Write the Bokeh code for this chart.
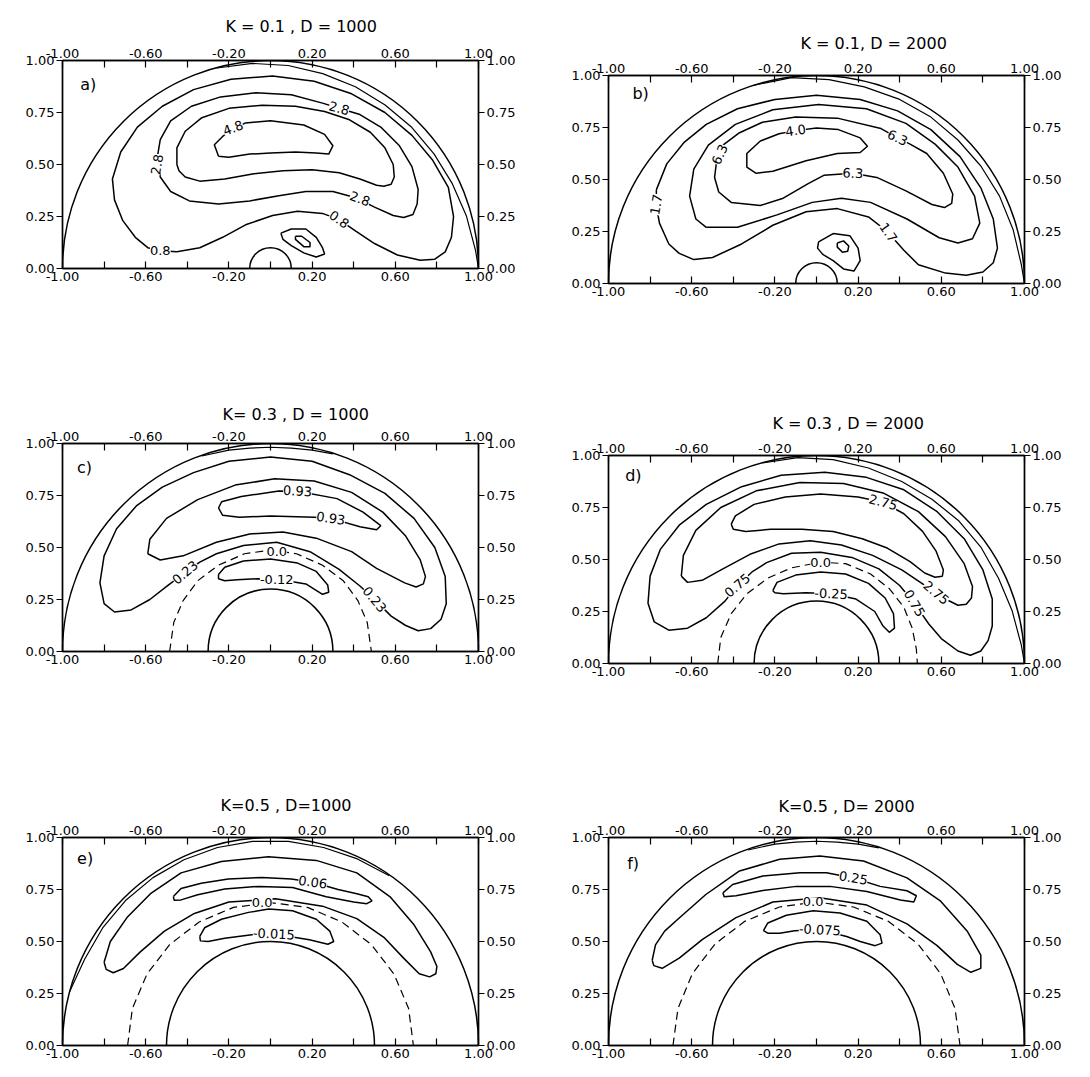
import math
from bokeh.plotting import figure
from bokeh.models import (ColumnDataSource, LabelSet, Label, FixedTicker, LinearAxis,
                          Range1d, PrintfTickFormatter)
from bokeh.layouts import column, row
from bokeh.embed import file_html
from bokeh.resources import INLINE
from bokeh.core.properties import value

FONT = "DejaVu Sans"

# ---------------- axes ----------------
X_MAJOR = [-1.0, -0.6, -0.2, 0.2, 0.6, 1.0]
X_MINOR = [-0.8, -0.4, 0.0, 0.4, 0.8]
Y_MAJOR = [0.0, 0.25, 0.5, 0.75, 1.0]

TITLES = ["K = 0.1  ,  D = 1000", "K = 0.1, D = 2000", "K= 0.3  ,  D = 1000",
          "K = 0.3 , D = 2000", "K=0.5  ,  D=1000", "K=0.5   ,   D= 2000"]
LETTERS = ["a)", "b)", "c)", "d)", "e)", "f)"]
K_VALUES = [0.1, 0.1, 0.3, 0.3, 0.5, 0.5]

# ---------------- panel a ----------------
A_EXTRA = [(-0.258, 0.964), (-0.086, 0.986), (0.085, 0.976), (0.251, 0.937), (0.408, 0.874),
           (0.551, 0.786), (0.679, 0.679), (0.786, 0.551), (0.874, 0.408), (0.942, 0.252),
           (0.986, 0.086), (1.0, 0.0)]
A_08 = [(-0.45, 0.08), (-0.34, 0.10), (-0.23, 0.15), (-0.12, 0.21), (0.01, 0.255), (0.13, 0.275),
        (0.25, 0.265), (0.33, 0.235), (0.41, 0.18), (0.50, 0.12), (0.61, 0.065), (0.72, 0.04),
        (0.79, 0.045), (0.84, 0.08), (0.87, 0.15), (0.88, 0.25), (0.855, 0.39), (0.78, 0.52),
        (0.68, 0.64), (0.55, 0.75), (0.39, 0.84), (0.21, 0.90), (0.01, 0.925), (-0.19, 0.91),
        (-0.37, 0.86), (-0.52, 0.78), (-0.64, 0.68), (-0.72, 0.56), (-0.76, 0.43), (-0.75, 0.33),
        (-0.71, 0.23), (-0.65, 0.15), (-0.59, 0.10), (-0.53, 0.085)]
A_28 = [(0.33, 0.77), (0.25, 0.795), (0.10, 0.835), (-0.07, 0.845), (-0.24, 0.825), (-0.38, 0.78),
        (-0.48, 0.71), (-0.53, 0.62), (-0.545, 0.53), (-0.53, 0.44), (-0.48, 0.37), (-0.39, 0.325),
        (-0.25, 0.31), (-0.10, 0.325), (0.04, 0.35), (0.17, 0.37), (0.30, 0.37), (0.41, 0.34),
        (0.50, 0.295), (0.59, 0.255), (0.64, 0.245), (0.685, 0.26), (0.705, 0.31), (0.71, 0.38),
        (0.68, 0.49), (0.62, 0.59), (0.53, 0.68), (0.43, 0.74)]
A_MID = [(-0.45, 0.50), (-0.45, 0.58), (-0.41, 0.66), (-0.33, 0.725), (-0.20, 0.77), (-0.04, 0.785),
         (0.12, 0.78), (0.26, 0.755), (0.38, 0.715), (0.48, 0.655), (0.55, 0.58), (0.59, 0.50),
         (0.595, 0.44), (0.58, 0.405), (0.545, 0.395), (0.51, 0.40), (0.43, 0.43), (0.33, 0.46),
         (0.20, 0.475), (0.06, 0.47), (-0.08, 0.455), (-0.22, 0.43), (-0.34, 0.42), (-0.41, 0.44),
         (-0.44, 0.47)]
A_48 = [(-0.25, 0.54), (-0.27, 0.595), (-0.23, 0.635), (-0.18, 0.67), (-0.12, 0.70), (0.0, 0.71),
        (0.16, 0.69), (0.26, 0.645), (0.30, 0.59), (0.28, 0.55), (0.22, 0.555), (0.12, 0.56),
        (0.0, 0.555), (-0.10, 0.55), (-0.20, 0.535)]
A_SMALL = [(0.05, 0.17), (0.10, 0.19), (0.17, 0.19), (0.22, 0.15), (0.25, 0.10), (0.26, 0.07),
           (0.22, 0.055), (0.16, 0.075), (0.10, 0.11), (0.06, 0.14)]
A_TINY = [(0.12, 0.155), (0.15, 0.155), (0.19, 0.125), (0.19, 0.105), (0.16, 0.105), (0.12, 0.14)]
A_LAB_X = [-0.53, 0.33, -0.545, 0.33, 0.43, -0.18]
A_LAB_Y = [0.085, 0.235, 0.50, 0.77, 0.335, 0.675]
A_LAB_T = ["0.8", "0.8", "2.8", "2.8", "2.8", "4.8"]
A_LAB_A = [0, -35, 80, -15, -20, 20]

# ---------------- panel b ----------------
B_EXTRA = [(-0.30, 0.953), (-0.12, 0.99), (0.06, 0.98), (0.23, 0.945), (0.40, 0.885), (0.55, 0.80),
           (0.68, 0.69), (0.79, 0.565), (0.88, 0.42), (0.945, 0.26), (0.985, 0.09), (1.0, 0.0)]
B_17 = [(-0.77, 0.45), (-0.72, 0.575), (-0.635, 0.68), (-0.53, 0.765), (-0.38, 0.84), (-0.20, 0.885),
        (0.0, 0.905), (0.21, 0.885), (0.39, 0.83), (0.55, 0.74), (0.69, 0.61), (0.79, 0.46),
        (0.85, 0.31), (0.87, 0.17), (0.85, 0.10), (0.80, 0.055), (0.72, 0.04), (0.62, 0.05),
        (0.49, 0.09), (0.42, 0.16), (0.34, 0.25), (0.25, 0.32), (0.10, 0.36), (-0.05, 0.345),
        (-0.21, 0.28), (-0.36, 0.19), (-0.50, 0.125), (-0.59, 0.115), (-0.66, 0.145), (-0.71, 0.19),
        (-0.755, 0.29), (-0.77, 0.375)]
B_MID = [(-0.53, 0.27), (-0.38, 0.27), (-0.19, 0.33), (-0.02, 0.39), (0.12, 0.41), (0.26, 0.39),
         (0.435, 0.31), (0.59, 0.22), (0.68, 0.195), (0.75, 0.215), (0.785, 0.29), (0.76, 0.42),
         (0.68, 0.56), (0.57, 0.67), (0.43, 0.77), (0.24, 0.84), (0.01, 0.86), (-0.21, 0.835),
         (-0.39, 0.765), (-0.52, 0.665), (-0.59, 0.55), (-0.61, 0.42), (-0.58, 0.31)]
B_63 = [(0.39, 0.70), (0.31, 0.745), (0.10, 0.795), (-0.10, 0.80), (-0.26, 0.775), (-0.37, 0.725),
        (-0.45, 0.665), (-0.48, 0.59), (-0.49, 0.51), (-0.47, 0.44), (-0.41, 0.39), (-0.27, 0.375),
        (-0.16, 0.41), (-0.04, 0.48), (0.035, 0.52), (0.175, 0.53), (0.29, 0.51), (0.43, 0.445),
        (0.555, 0.38), (0.615, 0.365), (0.65, 0.385), (0.655, 0.43), (0.61, 0.53), (0.53, 0.625),
        (0.45, 0.67)]
B_40 = [(-0.10, 0.735), (0.0, 0.748), (0.105, 0.74), (0.21, 0.70), (0.245, 0.66), (0.21, 0.63),
        (0.10, 0.625), (-0.05, 0.59), (-0.21, 0.54), (-0.29, 0.53), (-0.335, 0.56), (-0.335, 0.625),
        (-0.27, 0.685), (-0.18, 0.72)]
B_SMALL = [(0.01, 0.20), (0.08, 0.24), (0.16, 0.23), (0.20, 0.17), (0.21, 0.11), (0.18, 0.06),
           (0.13, 0.07), (0.08, 0.11), (0.03, 0.14), (0.005, 0.17)]
B_TINY = [(0.10, 0.195), (0.13, 0.205), (0.155, 0.18), (0.15, 0.155), (0.125, 0.15), (0.10, 0.175)]
B_LAB_X = [-0.10, 0.39, 0.175, -0.465, -0.77, 0.345]
B_LAB_Y = [0.735, 0.70, 0.53, 0.62, 0.38, 0.245]
B_LAB_T = ["4.0", "6.3", "6.3", "6.3", "1.7", "1.7"]
B_LAB_A = [8, -25, -3, 65, 80, -55]

# ---------------- panel c ----------------
C_EXTRA = [(-0.33, 0.94), (-0.2, 0.968), (-0.1, 0.978), (0.0, 0.982), (0.1, 0.978), (0.2, 0.968),
           (0.3, 0.95)]
C_023 = [(-0.41, 0.38), (-0.49, 0.32), (-0.58, 0.25), (-0.67, 0.20), (-0.75, 0.19), (-0.80, 0.23),
         (-0.82, 0.33), (-0.80, 0.46), (-0.74, 0.59), (-0.645, 0.70), (-0.52, 0.79), (-0.37, 0.86),
         (-0.20, 0.915), (0.0, 0.935), (0.20, 0.915), (0.38, 0.85), (0.55, 0.76), (0.69, 0.64),
         (0.79, 0.50), (0.84, 0.36), (0.845, 0.23), (0.82, 0.155), (0.77, 0.11), (0.71, 0.10),
         (0.65, 0.125), (0.58, 0.17), (0.50, 0.25), (0.43, 0.315), (0.33, 0.395), (0.19, 0.48),
         (0.03, 0.525), (-0.13, 0.51), (-0.26, 0.47), (-0.34, 0.43)]
C_MID = [(-0.59, 0.47), (-0.58, 0.54), (-0.50, 0.64), (-0.35, 0.73), (-0.17, 0.80), (0.02, 0.83),
         (0.21, 0.82), (0.39, 0.765), (0.54, 0.67), (0.65, 0.555), (0.72, 0.44), (0.745, 0.36),
         (0.735, 0.325), (0.70, 0.31), (0.645, 0.33), (0.51, 0.40), (0.39, 0.48), (0.22, 0.545),
         (0.06, 0.575), (-0.10, 0.565), (-0.26, 0.525), (-0.42, 0.46), (-0.53, 0.44)]
C_093 = [(-0.25, 0.69), (-0.23, 0.655), (-0.15, 0.645), (0.0, 0.652), (0.21, 0.645), (0.29, 0.64),
         (0.43, 0.60), (0.51, 0.585), (0.53, 0.605), (0.445, 0.67), (0.32, 0.735), (0.13, 0.77),
         (0.04, 0.772), (-0.14, 0.745), (-0.235, 0.72)]
C_DASH = [(-0.485, 0.0), (-0.465, 0.14), (-0.42, 0.245), (-0.35, 0.34), (-0.25, 0.415),
          (-0.125, 0.47), (0.0, 0.487), (0.125, 0.47), (0.25, 0.415), (0.35, 0.34), (0.42, 0.245),
          (0.465, 0.14), (0.485, 0.0)]
C_012 = [(-0.25, 0.37), (-0.22, 0.405), (-0.13, 0.435), (0.0, 0.445), (0.13, 0.425), (0.22, 0.385),
         (0.275, 0.32), (0.28, 0.285), (0.25, 0.275), (0.17, 0.325), (0.05, 0.345), (-0.06, 0.35),
         (-0.16, 0.345), (-0.22, 0.34), (-0.25, 0.35)]
C_LAB_X = [0.13, 0.29, 0.03, 0.03, -0.41, 0.50]
C_LAB_Y = [0.771, 0.64, 0.482, 0.347, 0.38, 0.25]
C_LAB_T = ["0.93", "0.93", "0.0", "-0.12", "0.23", "0.23"]
C_LAB_A = [-3, -8, 0, 0, 40, -50]

# ---------------- panel d ----------------
D_EXTRA = [(-0.26, 0.964), (-0.09, 0.99), (0.08, 0.98), (0.25, 0.94), (0.41, 0.875), (0.555, 0.79),
           (0.685, 0.685), (0.79, 0.56), (0.875, 0.41), (0.94, 0.255), (0.985, 0.087), (1.0, 0.0)]
D_075 = [(-0.38, 0.375), (-0.44, 0.30), (-0.53, 0.22), (-0.62, 0.17), (-0.71, 0.16), (-0.78, 0.20),
         (-0.81, 0.29), (-0.80, 0.42), (-0.75, 0.55), (-0.66, 0.665), (-0.53, 0.765), (-0.36, 0.85),
         (-0.17, 0.905), (0.04, 0.92), (0.24, 0.895), (0.42, 0.835), (0.58, 0.73), (0.71, 0.60),
         (0.80, 0.45), (0.845, 0.31), (0.845, 0.18), (0.825, 0.11), (0.79, 0.06), (0.74, 0.04),
         (0.68, 0.06), (0.60, 0.12), (0.54, 0.19), (0.47, 0.29), (0.40, 0.375), (0.30, 0.455),
         (0.17, 0.51), (0.02, 0.535), (-0.12, 0.53), (-0.24, 0.485), (-0.31, 0.44)]
D_MID = [(-0.65, 0.42), (-0.64, 0.52), (-0.58, 0.64), (-0.46, 0.75), (-0.29, 0.83), (-0.08, 0.87),
         (0.13, 0.865), (0.32, 0.82), (0.49, 0.73), (0.62, 0.61), (0.71, 0.48), (0.75, 0.37),
         (0.745, 0.315), (0.72, 0.285), (0.68, 0.28), (0.62, 0.31), (0.53, 0.37), (0.41, 0.45),
         (0.27, 0.52), (0.12, 0.57), (-0.03, 0.59), (-0.18, 0.575), (-0.32, 0.525), (-0.45, 0.455),
         (-0.55, 0.40), (-0.62, 0.39)]
D_275 = [(-0.41, 0.67), (-0.39, 0.71), (-0.30, 0.765), (-0.15, 0.80), (0.02, 0.815), (0.20, 0.80),
         (0.32, 0.775), (0.42, 0.72), (0.51, 0.635), (0.575, 0.54), (0.61, 0.45), (0.605, 0.42),
         (0.57, 0.415), (0.52, 0.435), (0.45, 0.49), (0.34, 0.555), (0.22, 0.60), (0.08, 0.635),
         (-0.07, 0.645), (-0.22, 0.645), (-0.34, 0.635), (-0.40, 0.645)]
D_DASH = [(-0.475, 0.0), (-0.46, 0.125), (-0.41, 0.24), (-0.335, 0.335), (-0.235, 0.41),
          (-0.12, 0.46), (0.02, 0.487), (0.14, 0.48), (0.26, 0.43), (0.35, 0.36), (0.42, 0.27),
          (0.46, 0.17), (0.48, 0.07), (0.485, 0.0)]
D_025 = [(-0.21, 0.35), (-0.19, 0.39), (-0.10, 0.425), (0.02, 0.44), (0.14, 0.43), (0.25, 0.385),
         (0.33, 0.315), (0.37, 0.24), (0.375, 0.17), (0.35, 0.15), (0.32, 0.18), (0.28, 0.25),
         (0.19, 0.31), (0.07, 0.335), (-0.05, 0.34), (-0.16, 0.335), (-0.20, 0.34)]
D_LAB_X = [0.32, 0.575, -0.38, 0.47, 0.02, 0.07]
D_LAB_Y = [0.775, 0.34, 0.375, 0.29, 0.487, 0.335]
D_LAB_T = ["2.75", "2.75", "0.75", "0.75", "0.0", "-0.25"]
D_LAB_A = [-15, -40, 40, -60, 0, -3]

# ---------------- panel e ----------------
E_EXTRA = [(-0.966, 0.259), (-0.893, 0.416), (-0.807, 0.565), (-0.697, 0.697), (-0.565, 0.807),
           (-0.416, 0.893), (-0.255, 0.952), (-0.086, 0.981), (0.086, 0.981), (0.255, 0.952),
           (0.418, 0.897), (0.571, 0.816)]
E_OUT = [(-0.80, 0.40), (-0.77, 0.50), (-0.69, 0.615), (-0.577, 0.73), (-0.43, 0.83), (-0.236, 0.885),
         (-0.01, 0.907), (0.22, 0.89), (0.415, 0.83), (0.577, 0.713), (0.69, 0.58), (0.77, 0.45),
         (0.80, 0.38), (0.795, 0.345), (0.765, 0.33), (0.715, 0.345), (0.64, 0.42), (0.545, 0.52),
         (0.415, 0.61), (0.25, 0.67), (0.024, 0.705), (-0.20, 0.69), (-0.366, 0.635), (-0.51, 0.55),
         (-0.626, 0.45), (-0.707, 0.37), (-0.756, 0.35), (-0.79, 0.366)]
E_006 = [(-0.467, 0.716), (-0.43, 0.755), (-0.333, 0.78), (-0.203, 0.80), (-0.04, 0.808), (0.10, 0.80),
         (0.203, 0.785), (0.325, 0.75), (0.415, 0.73), (0.47, 0.715), (0.488, 0.695), (0.463, 0.682),
         (0.40, 0.69), (0.268, 0.715), (0.106, 0.76), (-0.057, 0.765), (-0.22, 0.752), (-0.35, 0.725),
         (-0.43, 0.70), (-0.463, 0.698)]
E_DASH = [(-0.687, 0.0), (-0.664, 0.178), (-0.594, 0.343), (-0.485, 0.485), (-0.343, 0.594),
          (-0.178, 0.664), (0.0, 0.687), (0.178, 0.664), (0.343, 0.594), (0.485, 0.485),
          (0.594, 0.343), (0.664, 0.178), (0.687, 0.0)]
E_0015 = [(-0.34, 0.525), (-0.317, 0.566), (-0.236, 0.607), (-0.106, 0.64), (-0.008, 0.656),
          (0.106, 0.648), (0.22, 0.607), (0.285, 0.55), (0.304, 0.50), (0.276, 0.487), (0.187, 0.508),
          (0.016, 0.536), (-0.09, 0.533), (-0.22, 0.516), (-0.30, 0.50), (-0.337, 0.503)]
E_LAB_X = [0.203, -0.04, 0.016]
E_LAB_Y = [0.785, 0.687, 0.536]
E_LAB_T = ["0.06", "0.0", "-0.015"]
E_LAB_A = [-8, 0, -3]

# ---------------- panel f ----------------
F_EXTRA = [(-0.33, 0.94), (-0.2, 0.968), (-0.1, 0.978), (0.0, 0.982), (0.1, 0.978), (0.2, 0.968),
           (0.3, 0.95)]
F_OUT = [(-0.79, 0.41), (-0.774, 0.484), (-0.73, 0.55), (-0.66, 0.613), (-0.532, 0.726), (-0.37, 0.839),
         (-0.177, 0.895), (0.016, 0.911), (0.226, 0.887), (0.435, 0.806), (0.597, 0.694),
         (0.726, 0.548), (0.79, 0.435), (0.79, 0.371), (0.742, 0.352), (0.677, 0.39), (0.58, 0.48),
         (0.435, 0.585), (0.242, 0.675), (0.016, 0.71), (-0.21, 0.69), (-0.387, 0.615),
         (-0.548, 0.51), (-0.66, 0.42), (-0.742, 0.371), (-0.782, 0.384)]
F_025 = [(-0.45, 0.734), (-0.403, 0.774), (-0.258, 0.815), (-0.08, 0.83), (0.048, 0.83), (0.177, 0.805),
         (0.306, 0.765), (0.435, 0.744), (0.48, 0.72), (0.468, 0.69), (0.403, 0.70), (0.242, 0.74),
         (0.065, 0.765), (-0.097, 0.765), (-0.258, 0.745), (-0.387, 0.72), (-0.444, 0.715)]
F_DASH = [(-0.69, 0.0), (-0.666, 0.178), (-0.597, 0.345), (-0.488, 0.488), (-0.345, 0.597),
          (-0.178, 0.666), (0.0, 0.69), (0.178, 0.666), (0.345, 0.597), (0.488, 0.488),
          (0.597, 0.345), (0.666, 0.178), (0.69, 0.0)]
F_0075 = [(-0.255, 0.552), (-0.234, 0.589), (-0.145, 0.626), (-0.016, 0.648), (0.113, 0.637),
          (0.242, 0.597), (0.306, 0.532), (0.315, 0.492), (0.282, 0.48), (0.21, 0.50), (0.145, 0.524),
          (0.016, 0.556), (-0.105, 0.552), (-0.177, 0.54), (-0.234, 0.54)]
F_LAB_X = [0.177, -0.016, 0.016]
F_LAB_Y = [0.805, 0.69, 0.556]
F_LAB_T = ["0.25", "0.0", "-0.075"]
F_LAB_A = [-10, 0, -3]

PANELS = [
    dict(loops=[A_08, A_28, A_MID, A_48, A_SMALL, A_TINY], dashed=[], extra=A_EXTRA,
         labels=(A_LAB_X, A_LAB_Y, A_LAB_T, A_LAB_A)),
    dict(loops=[B_17, B_MID, B_63, B_40, B_SMALL, B_TINY], dashed=[], extra=B_EXTRA,
         labels=(B_LAB_X, B_LAB_Y, B_LAB_T, B_LAB_A)),
    dict(loops=[C_023, C_MID, C_093, C_012], dashed=C_DASH, extra=C_EXTRA,
         labels=(C_LAB_X, C_LAB_Y, C_LAB_T, C_LAB_A)),
    dict(loops=[D_075, D_MID, D_275, D_025], dashed=D_DASH, extra=D_EXTRA,
         labels=(D_LAB_X, D_LAB_Y, D_LAB_T, D_LAB_A)),
    dict(loops=[E_OUT, E_006, E_0015], dashed=E_DASH, extra=E_EXTRA,
         labels=(E_LAB_X, E_LAB_Y, E_LAB_T, E_LAB_A)),
    dict(loops=[F_OUT, F_025, F_0075], dashed=F_DASH, extra=F_EXTRA,
         labels=(F_LAB_X, F_LAB_Y, F_LAB_T, F_LAB_A)),
]

# layout (pixels): width, height, left, right, top, bottom, title offset, title standoff, letter pos
LAYOUT = [
    (545, 370, 62, 67, 60, 102, 163, 20, (-0.915, 0.885)),
    (537, 375, 63, 58, 75, 92, 192, 16, (-0.885, 0.915)),
    (545, 380, 62, 67, 73, 99, 160, 10, (-0.93, 0.885)),
    (537, 380, 63, 58, 80, 92, 164, 16, (-0.92, 0.905)),
    (545, 319, 62, 67, 87, 24, 158, 16, (-0.93, 0.90)),
    (537, 314, 63, 58, 82, 24, 170, 14, (-0.91, 0.875)),
]

LW = 1.5


def pts_xy(pts, close):
    xs = [q[0] for q in pts]
    ys = [q[1] for q in pts]
    if close:
        xs.append(pts[0][0])
        ys.append(pts[0][1])
    return xs, ys


def style_x_axis(ax):
    ax.ticker = FixedTicker(ticks=X_MAJOR, minor_ticks=X_MINOR)
    ax.formatter = PrintfTickFormatter(format="%.2f")
    ax.major_tick_in = 7
    ax.major_tick_out = 0
    ax.minor_tick_in = 7
    ax.minor_tick_out = 0
    ax.major_tick_line_width = 1.2
    ax.minor_tick_line_width = 1.2
    ax.major_tick_line_color = "black"
    ax.minor_tick_line_color = "black"
    ax.axis_line_color = "black"
    ax.axis_line_width = 1.4
    ax.major_label_text_font = FONT
    ax.major_label_text_font_size = "13px"
    ax.major_label_text_color = "black"
    ax.major_label_standoff = 3


def style_y_axis(ax):
    ax.ticker = FixedTicker(ticks=Y_MAJOR)
    ax.formatter = PrintfTickFormatter(format="%.2f")
    ax.major_tick_in = 0
    ax.major_tick_out = 6
    ax.minor_tick_line_color = None
    ax.major_tick_line_width = 1.2
    ax.major_tick_line_color = "black"
    ax.axis_line_color = "black"
    ax.axis_line_width = 1.4
    ax.major_label_text_font = FONT
    ax.major_label_text_font_size = "13px"
    ax.major_label_text_color = "black"
    ax.major_label_standoff = 2


def make_panel(i):
    w, h, bl, br, bt, bb, toff, tstand, lpos = LAYOUT[i]
    cfg = PANELS[i]
    p = figure(width=w, height=h, x_range=Range1d(-1, 1), y_range=Range1d(0, 1),
               output_backend="svg", toolbar_location=None,
               min_border_left=bl, min_border_right=br, min_border_top=bt, min_border_bottom=bb,
               title=TITLES[i])
    p.title.align = "left"
    p.title.offset = toff
    p.title.text_font = FONT
    p.title.text_font_size = "16px"
    p.title.text_font_style = "normal"
    p.title.text_color = "black"
    p.title.standoff = tstand
    p.xgrid.visible = False
    p.ygrid.visible = False
    p.outline_line_color = "black"
    p.outline_line_width = 1.4
    p.background_fill_color = "white"
    p.border_fill_color = "white"

    p.add_layout(LinearAxis(), "above")
    p.add_layout(LinearAxis(), "right")
    for ax in p.below + p.above:
        style_x_axis(ax)
    for ax in p.left + p.right:
        style_y_axis(ax)

    # boundaries
    p.arc(x=[0], y=[0], radius=1.0, start_angle=0, end_angle=math.pi,
          line_color="black", line_width=LW)
    p.arc(x=[0], y=[0], radius=K_VALUES[i], start_angle=0, end_angle=math.pi,
          line_color="black", line_width=LW)
    ex, ey = pts_xy(cfg["extra"], False)
    p.line(ex, ey, line_color="black", line_width=1.2)

    for loop in cfg["loops"]:
        xs, ys = pts_xy(loop, True)
        p.line(xs, ys, line_color="black", line_width=LW)
    if cfg["dashed"]:
        xs, ys = pts_xy(cfg["dashed"], False)
        p.line(xs, ys, line_color="black", line_width=1.2, line_dash="8 5")

    lx, ly, lt, la = cfg["labels"]
    src = ColumnDataSource(dict(x=lx, y=ly, text=lt, angle=la))
    p.add_layout(LabelSet(x="x", y="y", text="text", angle="angle", angle_units="deg",
                          source=src, text_align="center", text_baseline="middle",
                          text_font=value(FONT), text_font_size="13px", text_color="black",
                          background_fill_color="white"))
    p.add_layout(Label(x=lpos[0], y=lpos[1], text=LETTERS[i], text_font=FONT,
                       text_font_size="16px", text_align="left", text_baseline="middle",
                       text_color="black"))
    return p


figs = [make_panel(i) for i in range(6)]
layout = row(column(figs[0], figs[2], figs[4]), column(figs[1], figs[3], figs[5]))

with open("out.html", "w") as f:
    f.write(file_html(layout, INLINE))
